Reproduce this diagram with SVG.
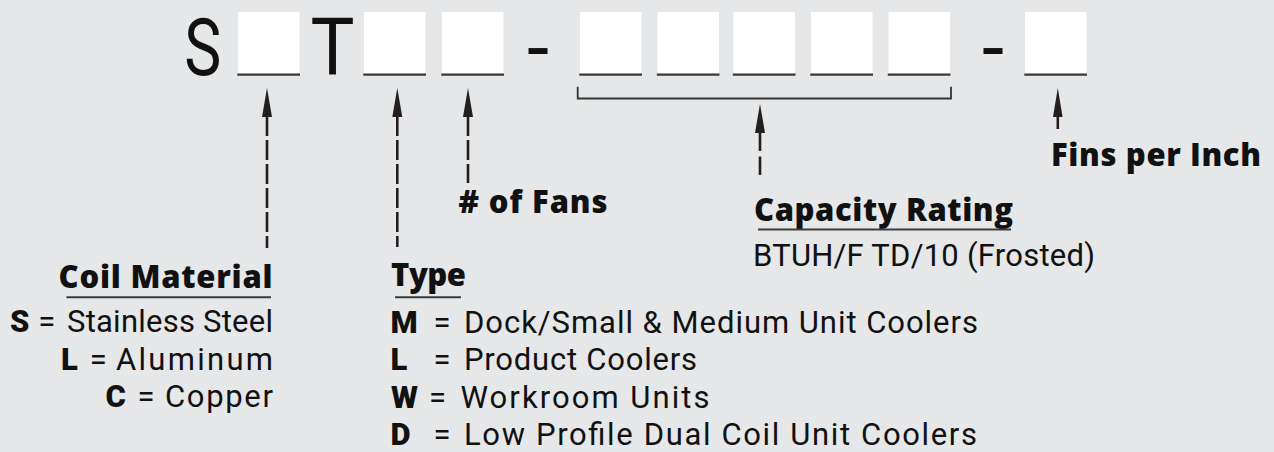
<svg xmlns="http://www.w3.org/2000/svg" width="1274" height="452" viewBox="0 0 1274 452">
<style>
.bg{fill:#e6e7e8}
.big{font-family:Roboto,"Open Sans","Liberation Sans",sans-serif;font-size:80px;fill:#111}
.box{fill:#ffffff}
.ul{stroke:#3a3a3a;stroke-width:2.4;fill:none}
.t{font-family:Roboto,"Liberation Sans",sans-serif;font-size:31px;fill:#111}
.b{font-weight:900}
.h{font-family:"Open Sans","Noto Sans","Liberation Sans",sans-serif;font-size:31px;font-weight:800;fill:#111}
.hul{stroke:#3a3a3a;stroke-width:2;fill:none}
.ln{stroke:#231f20;stroke-width:2.6;fill:none}
.dash{stroke-dasharray:20 4}
.head{fill:#231f20}
.br{stroke:#333;stroke-width:1.8;fill:none}
</style>
<rect class="bg" x="0" y="0" width="1274" height="452"/>

<g id="model-code">
  <text class="big" x="184.3" y="75" textLength="37" lengthAdjust="spacingAndGlyphs">S</text>
  <text class="big" x="310.5" y="75" textLength="44" lengthAdjust="spacingAndGlyphs">T</text>
  <text class="big" x="538" y="75" text-anchor="middle">-</text>
  <text class="big" x="993" y="75" text-anchor="middle">-</text>
  <g id="slot-1"><rect class="box" x="238" y="12" width="61.5" height="61.5"/><line class="ul" x1="237.3" y1="74.6" x2="300" y2="74.6"/></g>
  <g id="slot-2"><rect class="box" x="364" y="12" width="61.5" height="61.5"/><line class="ul" x1="363.3" y1="74.6" x2="426" y2="74.6"/></g>
  <g id="slot-3"><rect class="box" x="442" y="12" width="61.5" height="61.5"/><line class="ul" x1="441.3" y1="74.6" x2="504" y2="74.6"/></g>
  <g id="slot-4"><rect class="box" x="580" y="12" width="61.5" height="61.5"/><line class="ul" x1="579.3" y1="74.6" x2="642" y2="74.6"/></g>
  <g id="slot-5"><rect class="box" x="657.5" y="12" width="61.5" height="61.5"/><line class="ul" x1="656.8" y1="74.6" x2="719.5" y2="74.6"/></g>
  <g id="slot-6"><rect class="box" x="733.5" y="12" width="61.5" height="61.5"/><line class="ul" x1="732.8" y1="74.6" x2="795.5" y2="74.6"/></g>
  <g id="slot-7"><rect class="box" x="811" y="12" width="61.5" height="61.5"/><line class="ul" x1="810.3" y1="74.6" x2="873" y2="74.6"/></g>
  <g id="slot-8"><rect class="box" x="888.5" y="12" width="61.5" height="61.5"/><line class="ul" x1="887.8" y1="74.6" x2="950.5" y2="74.6"/></g>
  <g id="slot-9"><rect class="box" x="1025" y="12" width="61.5" height="61.5"/><line class="ul" x1="1024.3" y1="74.6" x2="1087" y2="74.6"/></g>
</g>

<g id="connectors">
  <path class="br" d="M577.7,86.7 V98.5 H951 V86.7"/>
  <polygon class="head" points="267,88 262,117 272,117"/>
  <line class="ln dash" x1="267" y1="116" x2="267" y2="248"/>
  <polygon class="head" points="397.3,88 392.3,117 402.3,117"/>
  <line class="ln dash" x1="397.3" y1="116" x2="397.3" y2="247"/>
  <polygon class="head" points="468,88 463,117 473,117"/>
  <line class="ln dash" x1="468" y1="116" x2="468" y2="183"/>
  <polygon class="head" points="760,104 755,133 765,133"/>
  <line class="ln" x1="760" y1="131" x2="760" y2="151"/>
  <line class="ln" x1="760" y1="156.5" x2="760" y2="175"/>
  <polygon class="head" points="1057.8,88 1053,117 1062.6,117"/>
  <line class="ln" x1="1057.8" y1="116" x2="1057.8" y2="129"/>
</g>

<g id="coil-material">
  <text class="h" x="58.5" y="288" textLength="214" lengthAdjust="spacing">Coil Material</text>
  <line class="hul" x1="66.5" y1="297.3" x2="271" y2="297.3"/>
  <text class="t b" x="10" y="332">S</text>
  <text class="t" x="46.7" y="332" text-anchor="middle">=</text>
  <text class="t" x="273" y="332" text-anchor="end" textLength="206" lengthAdjust="spacing">Stainless Steel</text>
  <text class="t b" x="61" y="369.5">L</text>
  <text class="t" x="98.3" y="369.5" text-anchor="middle">=</text>
  <text class="t" x="273" y="369.5" text-anchor="end" textLength="157" lengthAdjust="spacing">Aluminum</text>
  <text class="t b" x="105.5" y="407">C</text>
  <text class="t" x="145.9" y="407" text-anchor="middle">=</text>
  <text class="t" x="273" y="407" text-anchor="end" textLength="108" lengthAdjust="spacing">Copper</text>
</g>

<g id="type">
  <text class="h" x="391" y="286" textLength="75" lengthAdjust="spacing">Type</text>
  <line class="hul" x1="395" y1="297.3" x2="461" y2="297.3"/>
  <text class="t b" x="390.5" y="332.5">M</text>
  <text class="t" x="442" y="332.5" text-anchor="middle">=</text>
  <text class="t" x="464" y="332.5" textLength="514" lengthAdjust="spacing">Dock/Small &amp; Medium Unit Coolers</text>
  <text class="t b" x="390.5" y="370">L</text>
  <text class="t" x="442" y="370" text-anchor="middle">=</text>
  <text class="t" x="464" y="370" textLength="233" lengthAdjust="spacing">Product Coolers</text>
  <text class="t b" x="391" y="407.5">W</text>
  <text class="t" x="437.5" y="407.5" text-anchor="middle">=</text>
  <text class="t" x="460.5" y="407.5" textLength="249" lengthAdjust="spacing">Workroom Units</text>
  <text class="t b" x="390.5" y="445">D</text>
  <text class="t" x="442" y="445" text-anchor="middle">=</text>
  <text class="t" x="464" y="445" textLength="513" lengthAdjust="spacing">Low Profile Dual Coil Unit Coolers</text>
</g>

<g id="fans">
  <text class="h" x="458.5" y="213" textLength="149" lengthAdjust="spacing"># of Fans</text>
</g>

<g id="capacity">
  <text class="h" x="754" y="221" textLength="259" lengthAdjust="spacing">Capacity Rating</text>
  <line class="hul" x1="758" y1="229.5" x2="1011" y2="229.5"/>
  <text class="t" x="753" y="265.5" textLength="342" lengthAdjust="spacing">BTUH/F TD/10 (Frosted)</text>
</g>

<g id="fins">
  <text class="h" x="1051" y="166" textLength="210" lengthAdjust="spacing">Fins per Inch</text>
</g>
</svg>
